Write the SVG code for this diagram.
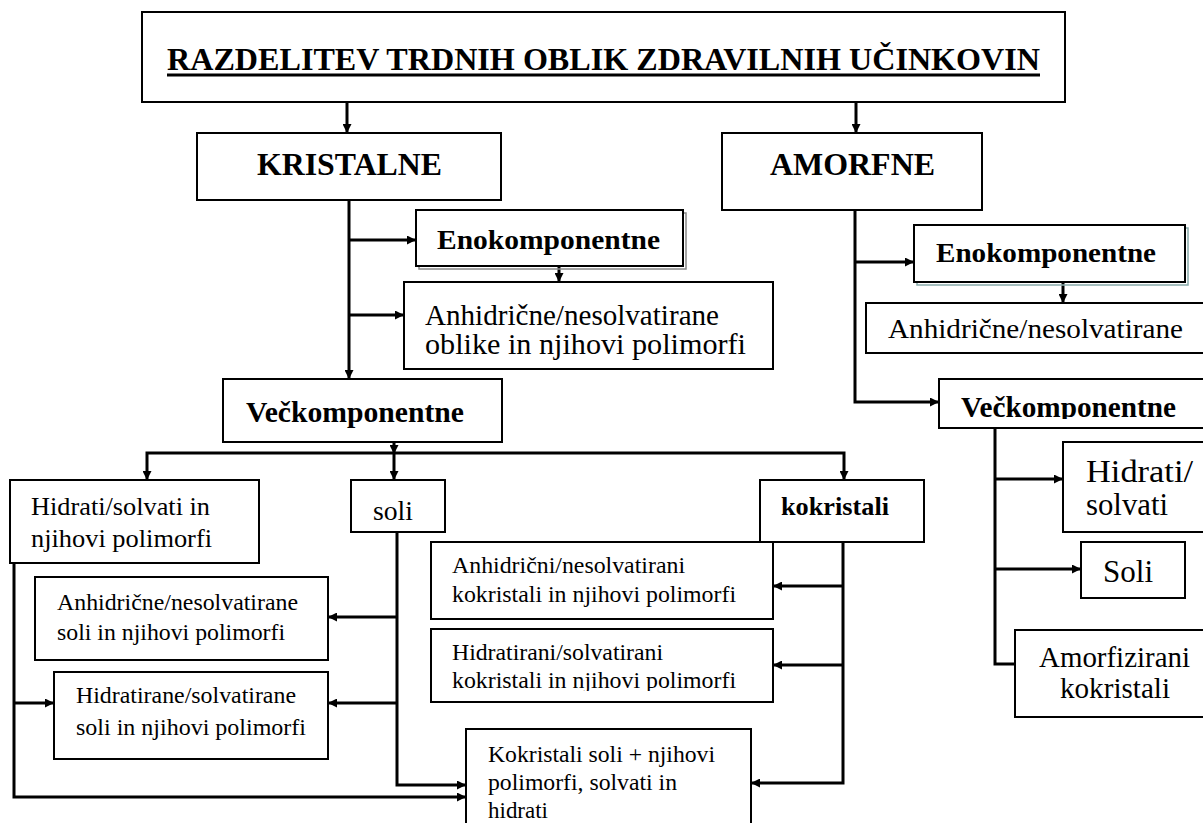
<svg xmlns="http://www.w3.org/2000/svg" width="1203" height="823" viewBox="0 0 1203 823">
<style>
.box{fill:#fff;stroke:#000;stroke-width:2}
.c{fill:none;stroke:#000;stroke-width:3}
.a{marker-end:url(#ah)}
text{font-family:"Liberation Serif","Times New Roman",serif;fill:#000}
.b{font-weight:bold}
</style>
<defs>
<marker id="ah" markerUnits="userSpaceOnUse" markerWidth="10" markerHeight="9" refX="9" refY="4.5" orient="auto">
<path d="M0,0 L9,4.5 L0,9 Z" fill="#000"/>
</marker>
<clipPath id="clipHK"><rect x="431" y="629" width="342" height="62"/></clipPath>
<clipPath id="clipVR"><rect x="939" y="379" width="270" height="40"/></clipPath>
</defs>
<rect width="1203" height="823" fill="#fff"/>

<g id="connectors">
<path class="c a" d="M347,102 V133"/>
<path class="c a" d="M856,102 V133"/>
<path class="c a" d="M349,200 V379"/>
<path class="c a" d="M349,240 H416"/>
<path class="c a" d="M349,315 H404"/>
<path class="c a" d="M559,266 V282"/>
<path class="c a" d="M394,442 V454"/>
<path class="c a" d="M394,453 V480"/>
<path class="c a" d="M394,453 H147 V480"/>
<path class="c a" d="M394,453 H844 V480"/>
<path class="c a" d="M14,563 V797 H466"/>
<path class="c a" d="M14,703 H54"/>
<path class="c a" d="M397,532 V785 H466"/>
<path class="c a" d="M397,617 H328"/>
<path class="c a" d="M397,703 H328"/>
<path class="c a" d="M843,542 V783 H751"/>
<path class="c a" d="M843,586 H773"/>
<path class="c a" d="M843,665 H773"/>
<path class="c a" d="M855,210 V402 H939"/>
<path class="c a" d="M855,262 H914"/>
<path class="c a" d="M1063,282 V303"/>
<path class="c a" d="M995,479 H1063"/>
<path class="c a" d="M995,569 H1081"/>
<path class="c" d="M995,428 V664 H1015"/>
</g>

<g id="title">
<rect class="box" x="142" y="12" width="923" height="90"/>
<text class="b" x="603.5" y="70" font-size="32" text-anchor="middle" textLength="873" lengthAdjust="spacingAndGlyphs">RAZDELITEV TRDNIH OBLIK ZDRAVILNIH UČINKOVIN</text>
<rect x="167" y="73.5" width="873" height="3" fill="#000"/>
</g>

<g id="kristalne">
<rect class="box" x="197" y="133" width="304" height="67"/>
<text class="b" x="349.5" y="175" font-size="32" text-anchor="middle" textLength="185" lengthAdjust="spacingAndGlyphs">KRISTALNE</text>
</g>

<g id="amorfne">
<rect class="box" x="722" y="133" width="260" height="77"/>
<text class="b" x="852.5" y="175" font-size="32" text-anchor="middle" textLength="165" lengthAdjust="spacingAndGlyphs">AMORFNE</text>
</g>

<g id="eno-k">
<rect x="419" y="213" width="267" height="56" fill="none" stroke="#888" stroke-width="1.5"/>
<rect class="box" x="416" y="210" width="267" height="56"/>
<text class="b" x="437" y="249" font-size="28" textLength="223" lengthAdjust="spacingAndGlyphs">Enokomponentne</text>
</g>

<g id="anh-k">
<rect class="box" x="404" y="282" width="369" height="87"/>
<text x="425" y="325" font-size="29" textLength="294" lengthAdjust="spacingAndGlyphs">Anhidrične/nesolvatirane</text>
<text x="425" y="354" font-size="29" textLength="321" lengthAdjust="spacingAndGlyphs">oblike in njihovi polimorfi</text>
</g>

<g id="vec-k">
<rect class="box" x="223" y="379" width="279" height="63"/>
<text class="b" x="246" y="422" font-size="29" textLength="218" lengthAdjust="spacingAndGlyphs">Večkomponentne</text>
</g>

<g id="hidrati-k">
<rect class="box" x="10" y="480" width="249" height="83"/>
<text x="31" y="515" font-size="26" textLength="179" lengthAdjust="spacingAndGlyphs">Hidrati/solvati in</text>
<text x="31" y="547" font-size="26" textLength="181" lengthAdjust="spacingAndGlyphs">njihovi polimorfi</text>
</g>

<g id="soli-k">
<rect class="box" x="351" y="480" width="94" height="52"/>
<text x="373" y="520" font-size="27" textLength="40" lengthAdjust="spacingAndGlyphs">soli</text>
</g>

<g id="kokristali-k">
<rect class="box" x="760" y="480" width="164" height="62"/>
<text class="b" x="781" y="515" font-size="26" textLength="108" lengthAdjust="spacingAndGlyphs">kokristali</text>
</g>

<g id="anh-soli">
<rect class="box" x="35" y="577" width="293" height="83"/>
<text x="57" y="610" font-size="24" textLength="241" lengthAdjust="spacingAndGlyphs">Anhidrične/nesolvatirane</text>
<text x="57" y="640" font-size="24" textLength="228" lengthAdjust="spacingAndGlyphs">soli in njihovi polimorfi</text>
</g>

<g id="hidr-soli">
<rect class="box" x="54" y="672" width="274" height="87"/>
<text x="76" y="703" font-size="24" textLength="220" lengthAdjust="spacingAndGlyphs">Hidratirane/solvatirane</text>
<text x="76" y="735" font-size="24" textLength="230" lengthAdjust="spacingAndGlyphs">soli in njihovi  polimorfi</text>
</g>

<g id="anh-kok">
<rect class="box" x="431" y="542" width="342" height="77"/>
<text x="452" y="573" font-size="24" textLength="233" lengthAdjust="spacingAndGlyphs">Anhidrični/nesolvatirani</text>
<text x="452" y="602" font-size="24" textLength="284" lengthAdjust="spacingAndGlyphs">kokristali in njihovi polimorfi</text>
</g>

<g id="hidr-kok">
<rect class="box" x="431" y="629" width="342" height="73"/>
<text x="452" y="660" font-size="24" textLength="211" lengthAdjust="spacingAndGlyphs">Hidratirani/solvatirani</text>
<text x="452" y="688" font-size="24" textLength="284" lengthAdjust="spacingAndGlyphs" clip-path="url(#clipHK)">kokristali in njihovi polimorfi</text>
</g>

<g id="kok-soli">
<rect class="box" x="466" y="729" width="285" height="110"/>
<text x="488" y="762" font-size="24" textLength="227" lengthAdjust="spacingAndGlyphs">Kokristali soli + njihovi</text>
<text x="488" y="790" font-size="24" textLength="189" lengthAdjust="spacingAndGlyphs">polimorfi, solvati in</text>
<text x="488" y="818" font-size="24" textLength="60" lengthAdjust="spacingAndGlyphs">hidrati</text>
</g>

<g id="eno-a">
<rect x="917" y="228" width="271" height="57" fill="none" stroke="#8aa" stroke-width="1.5"/>
<rect class="box" x="914" y="225" width="271" height="57"/>
<text class="b" x="936" y="262" font-size="28" textLength="220" lengthAdjust="spacingAndGlyphs">Enokomponentne</text>
</g>

<g id="anh-a">
<rect class="box" x="866" y="303" width="350" height="50"/>
<text x="888" y="338" font-size="28" textLength="295" lengthAdjust="spacingAndGlyphs">Anhidrične/nesolvatirane</text>
</g>

<g id="vec-a">
<rect class="box" x="939" y="379" width="280" height="49"/>
<text class="b" x="961" y="417" font-size="29" textLength="215" lengthAdjust="spacingAndGlyphs" clip-path="url(#clipVR)">Večkomponentne</text>
</g>

<g id="hidrati-a">
<rect class="box" x="1063" y="442" width="160" height="90"/>
<text x="1086" y="482" font-size="31" textLength="107" lengthAdjust="spacingAndGlyphs">Hidrati/</text>
<text x="1086" y="515" font-size="31" textLength="82" lengthAdjust="spacingAndGlyphs">solvati</text>
</g>

<g id="soli-a">
<rect class="box" x="1081" y="542" width="104" height="56"/>
<text x="1103" y="582" font-size="32" textLength="50" lengthAdjust="spacingAndGlyphs">Soli</text>
</g>

<g id="amorf-a">
<rect class="box" x="1015" y="630" width="200" height="87"/>
<text x="1039" y="667" font-size="29" textLength="151" lengthAdjust="spacingAndGlyphs">Amorfizirani</text>
<text x="1060" y="698" font-size="29" textLength="110" lengthAdjust="spacingAndGlyphs">kokristali</text>
</g>
</svg>
